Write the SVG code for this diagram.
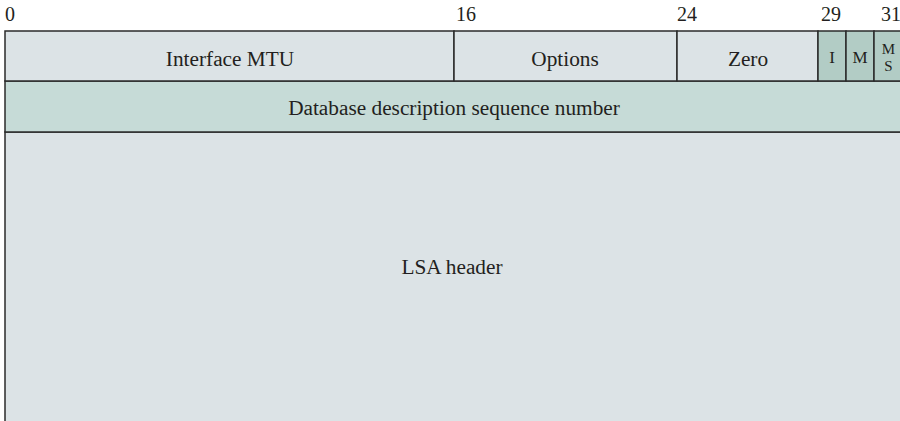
<svg xmlns="http://www.w3.org/2000/svg" width="900" height="421" viewBox="0 0 900 421">
<style>
.t{font-family:"Liberation Serif","Times New Roman",serif;font-size:21.3px;fill:#231f20;text-anchor:middle}
.n{font-family:"Liberation Serif","Times New Roman",serif;font-size:20px;fill:#231f20}
.s{font-family:"Liberation Serif","Times New Roman",serif;font-size:17px;fill:#231f20;text-anchor:middle}
.ms{font-family:"Liberation Serif","Times New Roman",serif;font-size:15px;fill:#231f20;text-anchor:middle}
.c{stroke:#2b2b2b;stroke-width:1.5}
.l{fill:#dce3e6}
.g{fill:#c6dbd7}
.f{fill:#b2ccc5}
</style>
<rect width="900" height="421" fill="#ffffff"/>
<g id="scale">
<text class="n" x="5" y="21">0</text>
<text class="n" x="456" y="21">16</text>
<text class="n" x="677" y="21">24</text>
<text class="n" x="821" y="21">29</text>
<text class="n" x="881" y="21">31</text>
</g>
<g id="lsa">
<rect class="l c" x="5" y="132" width="900" height="300"/>
<text class="t" x="452" y="274">LSA header</text>
</g>
<g id="seq">
<rect class="g c" x="5" y="81" width="900" height="51"/>
<text class="t" x="454" y="115">Database description sequence number</text>
</g>
<g id="mtu">
<rect class="l c" x="5" y="31" width="449" height="50"/>
<text class="t" x="230" y="65.5">Interface MTU</text>
</g>
<g id="options">
<rect class="l c" x="454" y="31" width="223" height="50"/>
<text class="t" x="565" y="65.5">Options</text>
</g>
<g id="zero">
<rect class="l c" x="677" y="31" width="141" height="50"/>
<text class="t" x="748" y="65.5">Zero</text>
</g>
<g id="i">
<rect class="f c" x="818" y="31" width="28" height="50"/>
<text class="s" x="832" y="63">I</text>
</g>
<g id="m">
<rect class="f c" x="846" y="31" width="28" height="50"/>
<text class="s" x="860" y="63">M</text>
</g>
<g id="ms">
<rect class="f c" x="874" y="31" width="30" height="50"/>
<text class="ms" x="888.5" y="54">M</text>
<text class="ms" x="888.5" y="71">S</text>
</g>
</svg>
